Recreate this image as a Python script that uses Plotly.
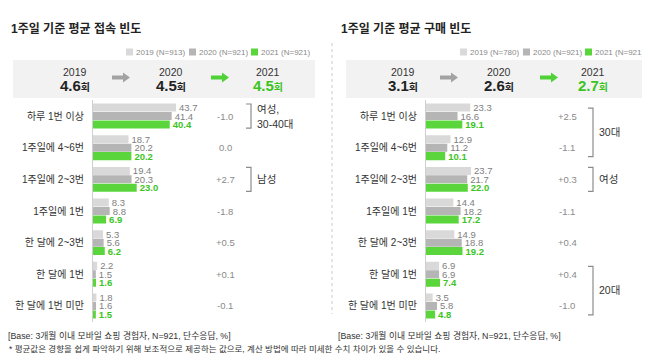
import plotly.graph_objects as go

# ---------------- data ----------------
categories = ["하루 1번 이상", "1주일에 4~6번", "1주일에 2~3번", "1주일에 1번",
              "한 달에 2~3번", "한 달에 1번", "한 달에 1번 미만"]
years = ["2019", "2020", "2021"]

access_2019 = [43.7, 18.7, 19.4, 8.3, 5.3, 2.2, 1.8]
access_2020 = [41.4, 20.2, 20.3, 8.8, 5.6, 1.5, 1.6]
access_2021 = [40.4, 20.2, 23.0, 6.9, 6.2, 1.6, 1.5]
access_diff = ["-1.0", "0.0", "+2.7", "-1.8", "+0.5", "+0.1", "-0.1"]
access_avg = [4.6, 4.5, 4.5]
access_n = [913, 921, 921]

purchase_2019 = [23.3, 12.9, 23.7, 14.4, 14.9, 6.9, 3.5]
purchase_2020 = [16.6, 11.2, 21.7, 18.2, 18.8, 6.9, 5.8]
purchase_2021 = [19.1, 10.1, 22.0, 17.2, 19.2, 7.4, 4.8]
purchase_diff = ["+2.5", "-1.1", "+0.3", "-1.1", "+0.4", "+0.4", "-1.0"]
purchase_avg = [3.1, 2.6, 2.7]
purchase_n = [780, 921, 921]

access_brackets = [("여성,<br>30-40대", 0, 0), ("남성", 2, 2)]
purchase_brackets = [("30대", 0, 1), ("여성", 2, 2), ("20대", 5, 6)]

title_access = "1주일 기준 평균 접속 빈도"
title_purchase = "1주일 기준 평균 구매 빈도"
footer_base = "[Base: 3개월 이내 모바일 쇼핑 경험자, N=921, 단수응답, %]"
footer_note = "* 평균값은 경향을 쉽게 파악하기 위해 보조적으로 제공하는 값으로, 계산 방법에 따라 미세한 수치 차이가 있을 수 있습니다."

# ---------------- style ----------------
W, H = 650, 360
FONT = "Arial, Liberation Sans, Noto Sans CJK KR, sans-serif"
C19, C20, C21 = "#d9d9d9", "#b5b5b5", "#5ad63c"
T19, T20, T21 = "#808080", "#808080", "#3cc41e"
DARK = "#333333"
SCALE = 1.9  # px per percent


def px(x):
    return x / W


def py(y):
    return 1 - y / H


def est_width(s, size):
    w = 0.0
    for ch in s:
        if "\uac00" <= ch <= "\ud7a3":
            w += size
        elif ch.isdigit():
            w += 0.556 * size
        elif ch == " ":
            w += 0.278 * size
        elif ch in ",.":
            w += 0.3 * size
        elif ch in "()":
            w += 0.333 * size
        elif ch == "N":
            w += 0.722 * size
        elif ch == "=":
            w += 0.584 * size
        else:
            w += 0.4 * size
    return w


fig = go.Figure()

panels = [
    dict(xa="x", ya="y", vals=[access_2019, access_2020, access_2021], n=access_n),
    dict(xa="x2", ya="y2", vals=[purchase_2019, purchase_2020, purchase_2021], n=purchase_n),
]

for p in panels:
    for vals, col, tcol, yr, n in zip(p["vals"], [C19, C20, C21], [T19, T20, T21], years, p["n"]):
        bold = yr == "2021"
        fig.add_trace(go.Bar(
            y=categories, x=vals, orientation="h", xaxis=p["xa"], yaxis=p["ya"],
            marker=dict(color=col, line=dict(width=0)),
            name=f"{yr} (N={n})",
            text=[(f"<b>{v:.1f}</b>" if bold else f"{v:.1f}") for v in vals],
            textposition="outside", constraintext="none", cliponaxis=False,
            textfont=dict(family=FONT, size=9.5, color=tcol),
            showlegend=False, hoverinfo="skip",
        ))

ydom = [py(313.8), py(92.2)]
common_x = dict(showgrid=False, zeroline=False, showticklabels=False, showline=False, fixedrange=True)
common_y = dict(type="category", autorange="reversed", showgrid=False, zeroline=False,
                showline=True, linecolor="#cfcfcf", linewidth=1, ticks="",
                ticklabelstandoff=6, tickfont=dict(family=FONT, size=10, color=DARK),
                domain=ydom, fixedrange=True)

fig.update_layout(
    width=W, height=H, margin=dict(l=0, r=0, t=0, b=0),
    paper_bgcolor="white", plot_bgcolor="rgba(0,0,0,0)",
    barmode="group", bargap=0.2, bargroupgap=0.05, showlegend=False,
    xaxis=dict(domain=[px(85), px(310)], range=[0, (310 - 85) / SCALE], anchor="y", **common_x),
    xaxis2=dict(domain=[px(418), px(645)], range=[0, (645 - 418) / SCALE], anchor="y2", **common_x),
    yaxis=dict(anchor="x", **common_y),
    yaxis2=dict(anchor="x2", **common_y),
    font=dict(family=FONT),
)

shapes = []
ann = []

# separator
shapes.append(dict(type="line", xref="paper", yref="paper", x0=px(324), x1=px(324),
                   y0=py(35), y1=py(306), line=dict(color="#cccccc", width=1, dash="dot")))

headers = [
    dict(title=title_access, tcx=67.5, box=(5, 307), yx=[67, 163, 260], arr=[(104, 122), (203, 221)],
         avg=access_avg, n=access_n, leg_x=[118, 181, 243]),
    dict(title=title_purchase, tcx=397.5, box=(338, 638), yx=[395, 491, 585], arr=[(432, 450), (532, 550)],
         avg=purchase_avg, n=purchase_n, leg_x=[452, 515, 577]),
]

LEG = 8
for h in headers:
    ann.append(dict(text=f"<b>{h['title']}</b>", xref="paper", yref="paper", x=px(h["tcx"]), y=py(20),
                    xanchor="center", yanchor="middle", showarrow=False,
                    font=dict(family=FONT, size=12, color="#222222")))
    for c, yr, n, lx in zip([C19, C20, C21], years, h["n"], h["leg_x"]):
        shapes.append(dict(type="rect", xref="paper", yref="paper", x0=px(lx), x1=px(lx + 7),
                           y0=py(47.5), y1=py(40.5), fillcolor=c, line=dict(width=0)))
        txt = f"{yr} (N={n})"
        ann.append(dict(text=txt, xref="paper", yref="paper",
                        x=px(lx + 10 + est_width(txt, LEG) / 2), y=py(44),
                        xanchor="center", yanchor="middle", showarrow=False,
                        font=dict(family=FONT, size=LEG, color="#8a8a8a")))
    shapes.append(dict(type="rect", xref="paper", yref="paper", x0=px(h["box"][0]), x1=px(h["box"][1]),
                       y0=py(90), y1=py(52), fillcolor="#f2f2f2", line=dict(width=0), layer="below"))
    for i, (yr, v, xc) in enumerate(zip(years, h["avg"], h["yx"])):
        col = T21 if i == 2 else "#222222"
        ann.append(dict(text=yr, xref="paper", yref="paper", x=px(xc), y=py(64),
                        xanchor="center", yanchor="middle", showarrow=False,
                        font=dict(family=FONT, size=10.5, color=DARK)))
        ann.append(dict(text=f'<b>{v:.1f}</b><span style="font-size:10px"><b>회</b></span>',
                        xref="paper", yref="paper", x=px(xc), y=py(77.5),
                        xanchor="center", yanchor="middle", showarrow=False,
                        font=dict(family=FONT, size=15, color=col)))
    for (x0, x1), col in zip(h["arr"], ["#a3a3a3", "#4fd236"]):
        yc = 69.5
        pts = [(x0, yc - 2), (x1 - 7, yc - 2), (x1 - 7, yc - 5), (x1, yc), (x1 - 7, yc + 5),
               (x1 - 7, yc + 2), (x0, yc + 2)]
        path = "M " + " L ".join(f"{px(a):.5f},{py(b):.5f}" for a, b in pts) + " Z"
        shapes.append(dict(type="path", xref="paper", yref="paper", path=path,
                           fillcolor=col, line=dict(width=0)))

# diff column and brackets
LB = 10.5
for ya, diffs, dx, brackets, bx in [("y", access_diff, 217, access_brackets, 243),
                                     ("y2", purchase_diff, 559, purchase_brackets, 585)]:
    for cat, d in zip(categories, diffs):
        ann.append(dict(text=d, xref="paper", yref=ya, x=px(dx), y=cat,
                        xanchor="center", yanchor="middle", showarrow=False,
                        font=dict(family=FONT, size=9.5, color="#8a8a8a")))
    for label, i0, i1 in brackets:
        top = i0 - (0.38 if i0 == i1 else 0.25)
        bot = i1 + (0.38 if i0 == i1 else 0.28)
        path = (f"M {px(bx - 5):.5f},{top} L {px(bx):.5f},{top} "
                f"L {px(bx):.5f},{bot} L {px(bx - 5):.5f},{bot}")
        shapes.append(dict(type="path", xref="paper", yref=ya, path=path,
                           line=dict(color="#8c8c8c", width=1.2)))
        lines = label.split("<br>")
        nl = len(lines)
        for k, line in enumerate(lines):
            shift = ((nl - 1) / 2 - k) * 15
            ann.append(dict(text=line, xref="paper", yref=ya,
                            x=px(bx + 5 + est_width(line, LB) / 2), y=(i0 + i1) / 2, yshift=shift,
                            xanchor="center", yanchor="middle", showarrow=False,
                            font=dict(family=FONT, size=LB, color=DARK)))

# footers
FB = 8.8
FN = 8.5
for left in (5, 335):
    ann.append(dict(text=footer_base, xref="paper", yref="paper", x=px(left + 106.5), y=py(327),
                    xanchor="center", yanchor="middle", showarrow=False,
                    font=dict(family=FONT, size=FB, color=DARK)))
ann.append(dict(text=footer_note, xref="paper", yref="paper", x=px(5 + 211.5), y=py(341),
                xanchor="center", yanchor="middle", showarrow=False,
                font=dict(family=FONT, size=FN, color=DARK)))

fig.update_layout(shapes=shapes, annotations=ann)
fig.write_html("out.html")
